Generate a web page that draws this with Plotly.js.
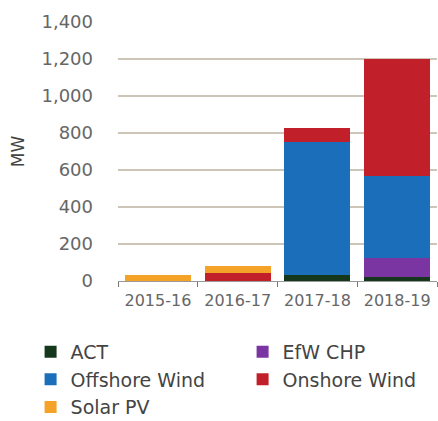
<!DOCTYPE html>
<html><head><meta charset="utf-8">
<script src="https://cdn.plot.ly/plotly-3.0.1.min.js"></script>
<style>html,body{margin:0;padding:0;background:#fff;}</style>
</head><body><div id="chart" style="width:438px;height:421px;"></div>
<script>
const categories = ["2015-16", "2016-17", "2017-18", "2018-19"];
const act = [0, 0, 30, 20];
const efwChp = [0, 0, 0, 105];
const offshoreWind = [0, 0, 720, 445];
const onshoreWind = [0, 45, 78, 630];
const solarPV = [35, 38, 0, 0];
const yTicks = [0, 200, 400, 600, 800, 1000, 1200, 1400];
const yTickLabels = ["0", "200", "400", "600", "800", "1,000", "1,200", "1,400"];

const series = [
  {name: "ACT", y: act, color: "#15381d"},
  {name: "EfW CHP", y: efwChp, color: "#7a35a3"},
  {name: "Offshore Wind", y: offshoreWind, color: "#1b6fba"},
  {name: "Onshore Wind", y: onshoreWind, color: "#c1202b"},
  {name: "Solar PV", y: solarPV, color: "#f4a228"}
];
const data = series.map(s => ({
  type: "bar", x: categories, y: s.y, name: s.name,
  marker: {color: s.color, line: {width: 0}}
}));
const font = {family: "DejaVu Sans", color: "#555"};
const layout = {
  width: 438, height: 421,
  margin: {l: 118, r: 1, t: 22, b: 140, autoexpand: false},
  barmode: "stack", bargap: 0.17,
  paper_bgcolor: "#fff", plot_bgcolor: "#fff",
  font: font,
  showlegend: true,
  legend: {orientation: "h", x: -0.274, xanchor: "left", y: -0.2, yanchor: "top",
    traceorder: "normal", entrywidth: 167, entrywidthmode: "pixels",
    font: {family: "DejaVu Sans", size: 19, color: "#444"}, itemwidth: 30,
    tracegroupgap: 0},
  xaxis: {type: "category", showgrid: false, showline: true, linecolor: "#999", linewidth: 1,
    ticks: "outside", tickson: "boundaries", ticklen: 5, tickcolor: "#777",
    ticklabelstandoff: 5,
    tickfont: {family: "DejaVu Sans", size: 16, color: "#666"}},
  yaxis: {range: [0, 1400], tickvals: yTicks, ticktext: yTickLabels,
    showgrid: true, gridcolor: "#cdc6b8", gridwidth: 1.5, zeroline: false,
    ticks: "", ticklabelstandoff: 24,
    tickfont: {family: "DejaVu Sans", size: 18, color: "#666"},
    title: {text: "MW", font: {family: "DejaVu Sans", size: 17, color: "#444"}, standoff: 12}}
};
Plotly.newPlot("chart", data, layout, {displayModeBar: false, staticPlot: true});
</script></body></html>
